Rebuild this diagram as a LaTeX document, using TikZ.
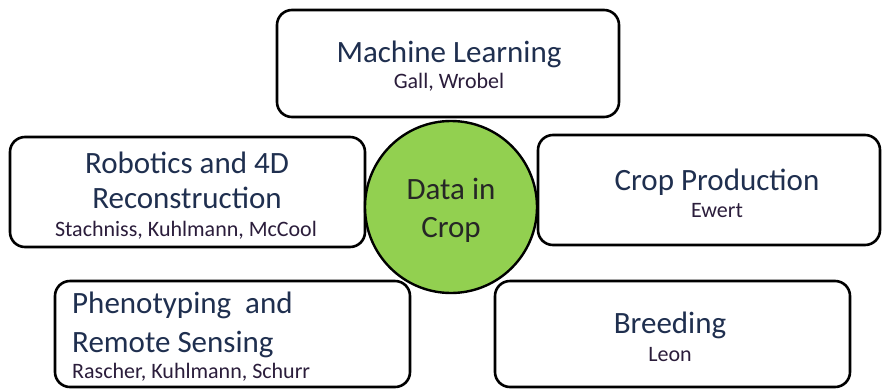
\documentclass[tikz,border=0pt]{standalone}
\usepackage{fontspec}
\setmainfont{Carlito}
\definecolor{titlecol}{HTML}{1F2F4F}
\definecolor{namecol}{HTML}{2B1D3B}
\definecolor{hubgreen}{HTML}{92D050}
\begin{document}
\begin{tikzpicture}[x=1pt,y=-1pt,
  box/.style={draw=black, line width=2.6pt, rounded corners=15pt, fill=white, inner sep=0pt},
  hub/.style={circle, draw=black, line width=2.4pt, fill=hubgreen, inner sep=0pt, minimum size=172pt},
  ttl/.style={text=titlecol, font=\fontsize{31}{36}\selectfont, inner sep=0pt},
  nm/.style={text=namecol, font=\fontsize{22}{26}\selectfont, inner sep=0pt},
  hubtxt/.style={text=black!85, font=\fontsize{31}{36}\selectfont, inner sep=0pt}]
\useasboundingbox (0,0) rectangle (883,389);
% boxes
\node[box, minimum width=342pt, minimum height=107pt] (ml) at (448,63.5) {};
\node[box, minimum width=355pt, minimum height=110pt] (rob) at (187.5,192) {};
\node[box, minimum width=342pt, minimum height=110pt] (crop) at (709,190) {};
\node[box, minimum width=355pt, minimum height=106pt] (phen) at (232.5,334) {};
\node[box, minimum width=355pt, minimum height=106pt] (breed) at (672.5,334) {};
% hub
\node[hub] (hubc) at (451,207) {};
% texts
\node[ttl, anchor=base] (mlt) at (449,62) {Machine Learning};
\node[nm, anchor=base] (mln) at (449,88) {Gall, Wrobel};
\node[ttl, anchor=base] (robt1) at (187,173) {Robotics and 4D};
\node[ttl, anchor=base] (robt2) at (187,208) {Reconstruction};
\node[nm, anchor=base] (robn) at (186,236) {Stachniss, Kuhlmann, McCool};
\node[ttl, anchor=base] (cropt) at (717,190) {Crop Production};
\node[nm, anchor=base] (cropn) at (717,217) {Ewert};
\node[ttl, anchor=base west] (phent1) at (72,313) {Phenotyping\ \ and};
\node[ttl, anchor=base west] (phent2) at (72,352) {Remote Sensing};
\node[nm, anchor=base west] (phenn) at (72,378) {Rascher, Kuhlmann, Schurr};
\node[ttl, anchor=base] (breedt) at (670,333) {Breeding};
\node[nm, anchor=base] (breedn) at (670,361) {Leon};
\node[hubtxt, anchor=base] (hubt1) at (451,199) {Data in};
\node[hubtxt, anchor=base] (hubt2) at (451,237) {Crop};
\end{tikzpicture}
\end{document}
